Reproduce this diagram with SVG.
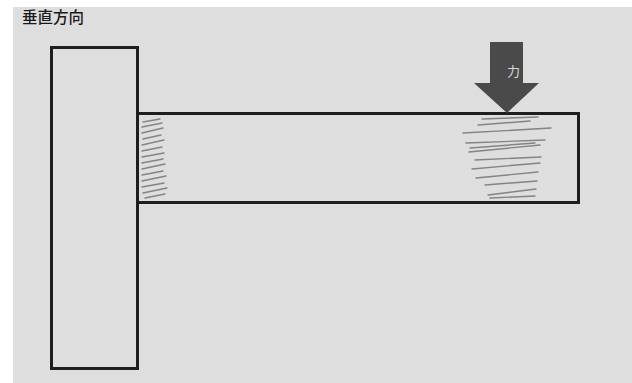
<svg xmlns="http://www.w3.org/2000/svg" width="632" height="383" viewBox="0 0 632 383">
<style>
.frame{fill:none;stroke:#1e1e1e;stroke-width:3}
.hatch{fill:none;stroke:#7a7a7a;stroke-width:1.4;stroke-linecap:round;opacity:0.9}
.label{font-family:"Noto Sans CJK JP","Noto Sans CJK SC",sans-serif}
</style>
<rect x="0" y="0" width="632" height="383" fill="#ffffff"/>
<rect x="13" y="7" width="619" height="376" fill="#dedede"/>
<text class="label" x="22" y="23" font-size="15.5" font-weight="500" fill="#1a1a1a">垂直方向</text>
<g id="column">
<rect class="frame" x="51.5" y="47.5" width="86" height="321"/>
</g>
<g id="beam">
<rect class="frame" x="137.5" y="113.5" width="441" height="89"/>
<path class="hatch" d="M143,122 L160,119 M142,127 L162,123 M142,133 L163,128 M143,139 L161,135 M142,145 L164,140 M142,151 L162,147 M142,157 L164,153 M142,163 L163,159 M142,169 L165,164 M142,175 L163,171 M142,181 L166,176 M142,187 L164,183 M143,193 L167,188 M145,198 L165,194"/>
<path class="hatch" d="M482,119 L538,117 M463,133 L551,128 M466,143 L545,140 M469,152 L540,145 M475,160 L541,157 M472,169 L540,163 M476,178 L538,172 M485,185 L537,181 M488,195 L536,189 M490,198 L535,196 M478,125 L530,121 M470,148 L535,143"/>
</g>
<g id="force">
<polygon points="490,42 523,42 523,83 539,83 507,113 474,83 490,83" fill="#4a4a4a"/>
<text class="label" x="507" y="76" font-size="13" fill="#d8d8d8">力</text>
</g>
</svg>
